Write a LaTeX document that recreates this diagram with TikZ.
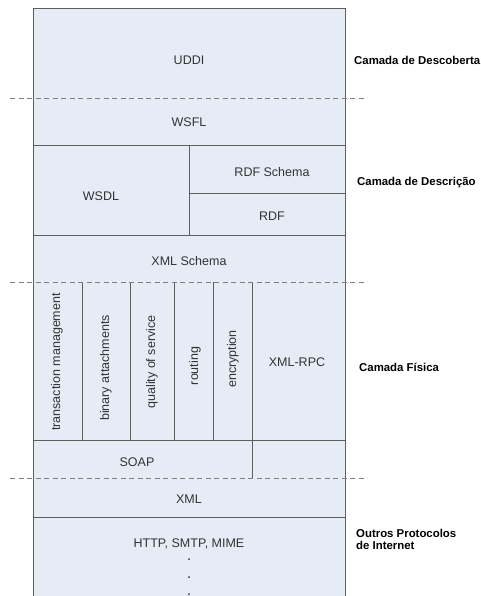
\documentclass[tikz,border=0pt]{standalone}
\usepackage{fontspec}
\setmainfont{Liberation Sans}
\definecolor{cellfill}{HTML}{E6ECF6}
\definecolor{edge}{HTML}{5E5E5E}
\definecolor{ink}{HTML}{333333}
\begin{document}
\begin{tikzpicture}[x=1pt,y=-1pt,
  cellline/.style={draw=edge,line width=0.9pt},
  layerline/.style={draw=edge!80,line width=0.9pt,dash pattern=on 5pt off 3.5pt},
  celltext/.style={font=\fontsize{12.5}{14}\selectfont,text=ink,inner sep=0pt},
  sidetext/.style={font=\fontsize{11.4}{13}\selectfont\bfseries,text=black,inner sep=0pt,anchor=west,align=left}]
\useasboundingbox (0,0) rectangle (481,596);
% background of the protocol stack
\fill[cellfill] (33,8) rectangle (345,596);
% outer frame, open at the bottom
\draw[cellline] (33,596) -- (33,8) -- (345,8) -- (345,596);
% solid separators
\draw[cellline] (33,145) -- (345,145);
\draw[cellline] (189,145) -- (189,235);
\draw[cellline] (189,193) -- (345,193);
\draw[cellline] (33,235) -- (345,235);
\foreach \xx in {82,130,174,213} \draw[cellline] (\xx,282) -- (\xx,440);
\draw[cellline] (252,282) -- (252,478);
\draw[cellline] (33,440) -- (345,440);
\draw[cellline] (33,517) -- (345,517);
% dashed layer boundaries
\foreach \yy in {98,282,478} \draw[layerline] (10,\yy) -- (367,\yy);
% cell labels
\node[celltext] (uddi) at (189,60) {UDDI};
\node[celltext] (wsfl) at (189,122) {WSFL};
\node[celltext] (wsdl) at (101,196) {WSDL};
\node[celltext] (rdfs) at (272,172) {RDF Schema};
\node[celltext] (rdf) at (272,216) {RDF};
\node[celltext] (xmls) at (189,261) {XML Schema};
\node[celltext,rotate=90] (trans) at (57,362) {transaction management};
\node[celltext,rotate=90] (binary) at (106,368) {binary attachments};
\node[celltext,rotate=90] (qos) at (152,362) {quality of service};
\node[celltext,rotate=90] (routing) at (195,366) {routing};
\node[celltext,rotate=90] (encr) at (233,359) {encryption};
\node[celltext] (xmlrpc) at (297,362) {XML-RPC};
\node[celltext] (soap) at (137,462) {SOAP};
\node[celltext] (xml) at (189,499) {XML};
\node[celltext] (http) at (189,544) {HTTP, SMTP, MIME};
\foreach \yy/\nm in {559/d1,577/d2,594/d3} \node[fill=ink,circle,inner sep=0pt,minimum size=2pt] (\nm) at (189,\yy) {};
% layer names
\node[sidetext] (ldisc) at (354,60) {Camada de Descoberta};
\node[sidetext] (ldesc) at (357,183) {Camada de Descrição};
\node[sidetext] (lphys) at (359,367) {Camada Física};
\node[sidetext] (lother) at (356,539) {Outros Protocolos\\[-1pt]de Internet};
\end{tikzpicture}
\end{document}
